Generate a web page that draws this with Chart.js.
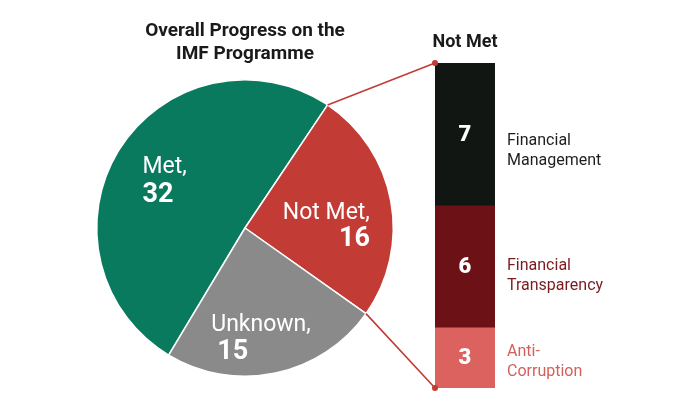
<!DOCTYPE html>
<html>
<head>
<meta charset="utf-8">
<script src="https://cdn.jsdelivr.net/npm/chart.js@4"></script>
<style>
  body { margin: 0; background: #fff; }
  .wrap { position: relative; width: 700px; height: 400px; }
  .wrap canvas { position: absolute; left: 0; top: 0; }
</style>
</head>
<body>
<div class="wrap">
  <canvas id="pieChart" width="700" height="400"></canvas>
  <canvas id="barChart" width="700" height="400"></canvas>
</div>
<script>
// overall progress
const pieLabels = ['Met', 'Not Met', 'Unknown'];
const pieValues = [32, 16, 15];
const pieColors = ['#0a7a5f', '#c23b35', '#8a8a8a'];

// breakdown of "Not Met"
const barCategories = ['Not Met'];
const breakdownNames = ['Financial Management', 'Financial Transparency', 'Anti-Corruption'];
const breakdownLines = [['Financial', 'Management'], ['Financial', 'Transparency'], ['Anti-', 'Corruption']];
const breakdownValues = [7, 6, 3];
const breakdownColors = ['#111612', '#6c1115', '#db625e'];
const breakdownTextColors = ['#1e1e1e', '#7a1c1f', '#d4605b'];

const FONT = 'Roboto, "Noto Sans", sans-serif';
const lineColor = '#c23b35';

// where each pie label sits relative to the slice centroid
const pieLabelPos = [
    { dx: -40, align: 'left', y1: -15, y2: 14 },
    { dx: 52, align: 'right', y1: 4, y2: 31 },
    { dx: -49, align: 'left', y1: 30, y2: 58 }
];

const pieText = {
    id: 'pieText',
    afterDraw(chart) {
        const ctx = chart.ctx;
        const meta = chart.getDatasetMeta(0);
        ctx.save();
        // title
        ctx.fillStyle = '#1a1a1a';
        ctx.textAlign = 'center';
        ctx.textBaseline = 'alphabetic';
        ctx.font = 'bold 19px ' + FONT;
        ctx.fillText('Overall Progress on the', 245, 36);
        ctx.fillText('IMF Programme', 245, 59);

        meta.data.forEach((arc, i) => {
            const c = arc.tooltipPosition();
            const p = pieLabelPos[i];
            ctx.fillStyle = '#fff';
            ctx.textAlign = p.align;
            ctx.font = '23px ' + FONT;
            ctx.fillText(pieLabels[i] + ',', c.x + p.dx, c.y + p.y1);
            ctx.font = 'bold 27px ' + FONT;
            ctx.fillText(String(pieValues[i]), c.x + p.dx + (i === 2 ? 6 : 0), c.y + p.y2);
        });
        ctx.restore();
    }
};

const pieChart = new Chart(document.getElementById('pieChart'), {
    type: 'pie',
    data: {
        labels: pieLabels,
        datasets: [{
            data: pieValues,
            backgroundColor: pieColors,
            borderColor: '#fff',
            borderWidth: 1.5
        }]
    },
    options: {
        responsive: false,
        animation: false,
        rotation: -149,
        layout: { padding: { left: 96, right: 306, top: 79, bottom: 23 } },
        plugins: {
            legend: { display: false },
            tooltip: { enabled: false }
        }
    },
    plugins: [pieText]
});

const barText = {
    id: 'barText',
    afterDraw(chart) {
        const ctx = chart.ctx;
        const yOff = [7, 0, -6];
        ctx.save();
        let top = Infinity, bottom = -Infinity, left = 0, right = 0;
        breakdownValues.forEach((v, i) => {
            const bar = chart.getDatasetMeta(i).data[0];
            const t = Math.min(bar.y, bar.base);
            const b = Math.max(bar.y, bar.base);
            top = Math.min(top, t);
            bottom = Math.max(bottom, b);
            left = bar.x - bar.width / 2;
            right = bar.x + bar.width / 2;
            const mid = (t + b) / 2;
            ctx.fillStyle = '#fff';
            ctx.textAlign = 'center';
            ctx.textBaseline = 'middle';
            ctx.font = '900 22px ' + FONT;
            ctx.fillText(String(v), bar.x, mid + 1);
            ctx.fillStyle = breakdownTextColors[i];
            ctx.textAlign = 'left';
            ctx.textBaseline = 'middle';
            ctx.font = '16px ' + FONT;
            ctx.fillText(breakdownLines[i][0], right + 12, mid + yOff[i]);
            ctx.fillText(breakdownLines[i][1], right + 12, mid + yOff[i] + 20);
        });

        // heading above the bar
        ctx.fillStyle = '#1a1a1a';
        ctx.textAlign = 'center';
        ctx.textBaseline = 'alphabetic';
        ctx.font = 'bold 18px ' + FONT;
        ctx.fillText(barCategories[0], (left + right) / 2, 47);

        // connectors from the Not Met slice to the bar
        const arc = pieChart.getDatasetMeta(0).data[1];
        const r = arc.outerRadius;
        const p1 = { x: arc.x + r * Math.cos(arc.startAngle), y: arc.y + r * Math.sin(arc.startAngle) };
        const p2 = { x: arc.x + r * Math.cos(arc.endAngle), y: arc.y + r * Math.sin(arc.endAngle) };
        ctx.strokeStyle = lineColor;
        ctx.fillStyle = lineColor;
        ctx.lineWidth = 1.6;
        ctx.beginPath();
        ctx.moveTo(p1.x, p1.y);
        ctx.lineTo(left, top);
        ctx.moveTo(p2.x, p2.y);
        ctx.lineTo(left, bottom);
        ctx.stroke();
        [[left, top], [left, bottom]].forEach(([x, y]) => {
            ctx.beginPath();
            ctx.arc(x, y, 3, 0, Math.PI * 2);
            ctx.fill();
        });
        ctx.restore();
    }
};

new Chart(document.getElementById('barChart'), {
    type: 'bar',
    data: {
        labels: barCategories,
        datasets: breakdownValues.map((v, i) => ({
            label: breakdownNames[i],
            data: [v],
            backgroundColor: breakdownColors[i],
            borderWidth: 0,
            barPercentage: 1,
            categoryPercentage: 1
        }))
    },
    options: {
        responsive: false,
        animation: false,
        layout: { padding: { left: 435, right: 205, top: 63, bottom: 12 } },
        scales: {
            x: { display: false, stacked: true },
            y: { display: false, stacked: true, reverse: true, min: 0, max: 16 }
        },
        plugins: {
            legend: { display: false },
            tooltip: { enabled: false }
        }
    },
    plugins: [barText]
});
</script>
</body>
</html>
